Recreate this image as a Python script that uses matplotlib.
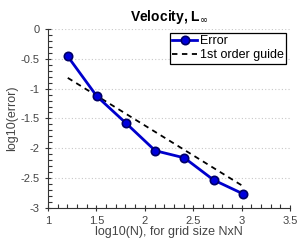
# convergence plot of velocity error
import numpy as np
import matplotlib
matplotlib.use("Agg")
import matplotlib.pyplot as plt
from matplotlib.ticker import MultipleLocator, FormatStrFormatter

plt.rcParams['font.family'] = ['Liberation Sans', 'DejaVu Sans']

# data
grid_n = [16, 32, 64, 128, 256, 512, 1024]
log_err = [-0.46, -1.13, -1.58, -2.04, -2.16, -2.53, -2.76]
guide_x = [1.204, 3.01]
guide_y = [-0.82, -2.63]

logn = np.log10(grid_n)

fig = plt.figure(figsize=(3.0, 2.43), dpi=100)
ax = fig.add_axes([0.16, 0.144, 0.807, 0.737])

ax.plot(logn, log_err, color='#0000cc', lw=2, marker='o', ms=6,
        mfc='#0000dd', mec='#000066', mew=1.2, label='Error', zorder=3)
ax.plot(guide_x, guide_y, color='black', ls='--', lw=1.3, dashes=(3, 2.5),
        label='1st order guide', zorder=2)

ax.set_xlim(1, 3.5)
ax.set_ylim(-3, 0)
ax.xaxis.set_major_locator(MultipleLocator(0.5))
ax.xaxis.set_minor_locator(MultipleLocator(0.1))
ax.yaxis.set_major_locator(MultipleLocator(0.5))
ax.yaxis.set_minor_locator(MultipleLocator(0.1))
ax.xaxis.set_major_formatter(FormatStrFormatter('%g'))
ax.yaxis.set_major_formatter(FormatStrFormatter('%g'))
ax.tick_params(which='major', direction='inout', length=5, width=0.8,
               labelsize=8, color='#333333', labelcolor='#444444')
ax.tick_params(axis='both', which='minor', direction='in', length=3,
               width=0.8, color='#333333', bottom=True, left=True)

for s in ['top', 'right']:
    ax.spines[s].set_visible(False)
for s in ['left', 'bottom']:
    ax.spines[s].set_linewidth(0.8)
    ax.spines[s].set_color('#333333')

ax.grid(axis='y', which='major', color='#c8c8c8', ls=(0, (1, 2)), lw=0.8)

ax.set_xlabel('log10(N), for grid size NxN', fontsize=9, color='#444444', labelpad=0)
ax.set_ylabel('log10(error)', fontsize=9, color='#444444', labelpad=2)
ax.set_title('Velocity, L$_{\\infty}$', fontsize=10, fontweight='bold', pad=6)

leg = ax.legend(loc='upper right', fontsize=9, frameon=True, fancybox=False,
                edgecolor='black', framealpha=1, borderpad=0.2,
                handlelength=2.0, handletextpad=0.2, borderaxespad=0.3,
                labelspacing=0.15)
leg.get_frame().set_linewidth(0.9)

fig.savefig('out.png', dpi=100)
